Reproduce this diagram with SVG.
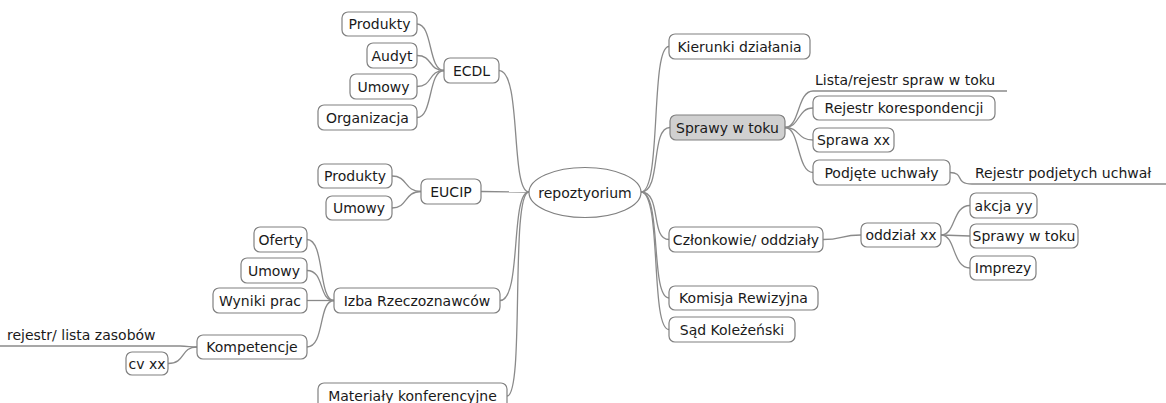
<svg xmlns="http://www.w3.org/2000/svg" width="1166" height="403" viewBox="0 0 1166 403">
<style>
.b{fill:#fff;stroke:#808080;stroke-width:1.2}
.g{fill:#d0d0d0;stroke:#808080;stroke-width:1.2}
.t{font-family:"DejaVu Sans",sans-serif;font-size:14px;fill:#1a1a1a;text-anchor:middle}
.ts{font-family:"DejaVu Sans",sans-serif;font-size:14px;fill:#1a1a1a}
.c{fill:none;stroke:#8a8a8a;stroke-width:1.3}
</style>
<rect width="1166" height="403" fill="#fff"/>
<g id="connectors">
<path class="c" d="M417,24 C433,24 428,70.5 444,70.5"/>
<path class="c" d="M417,55.5 C433,55.5 428,70.5 444,70.5"/>
<path class="c" d="M417,86.5 C433,86.5 428,70.5 444,70.5"/>
<path class="c" d="M417,117.5 C433,117.5 428,70.5 444,70.5"/>
<path class="c" d="M499,70.5 C522,70.5 510,192 529,192"/>
<path class="c" d="M392,176 C408,176 404,191.5 421,191.5"/>
<path class="c" d="M392,208 C408,208 404,191.5 421,191.5"/>
<path class="c" d="M481,191.5 L529,192"/>
<path class="c" d="M307,239.5 C325,239.5 318,300.5 334,300.5"/>
<path class="c" d="M307,270.5 C325,270.5 318,300.5 334,300.5"/>
<path class="c" d="M307,300.5 L334,300.5"/>
<path class="c" d="M307,347 C325,347 318,300.5 334,300.5"/>
<path class="c" d="M500,300.5 C522,300.5 510,192 529,192"/>
<path class="c" d="M507,396 C525,396 510,192 529,192"/>
<path class="c" d="M0,346 L180,346 C188,346 190,347 197,347"/>
<path class="c" d="M168,363.5 C186,363.5 180,347 197,347"/>
<path class="c" d="M641,192 C662,192 650,46.5 669,46.5"/>
<path class="c" d="M641,192 C662,192 650,127.5 670,127.5"/>
<path class="c" d="M641,192 C662,192 650,239.5 669,239.5"/>
<path class="c" d="M641,192 C662,192 650,298 669,298"/>
<path class="c" d="M641,192 C662,192 650,329.5 669,329.5"/>
<path class="c" d="M785,127.5 C800,127.5 797,91 813,91 L1007,91"/>
<path class="c" d="M785,127.5 C800,127.5 797,108 813,108"/>
<path class="c" d="M785,127.5 C800,127.5 797,140 813,140"/>
<path class="c" d="M785,127.5 C800,127.5 797,172.5 813,172.5"/>
<path class="c" d="M950,172.5 C965,172.5 954,184 972,184 L1166,184"/>
<path class="c" d="M823,239.5 C843,239.5 840,235 861,235"/>
<path class="c" d="M941,235 C956,235 952,205.5 970,205.5"/>
<path class="c" d="M941,235 L970,236"/>
<path class="c" d="M941,235 C956,235 952,268 970,268"/>
</g>
<g id="n-root"><ellipse cx="585" cy="192.5" rx="56" ry="25" fill="#fff" stroke="#808080" stroke-width="1.2"/><text class="t" x="585" y="197.5">repoztyorium</text></g>
<g id="n-ecdl"><rect class="b" x="444" y="58" width="55" height="25" rx="6"/><text class="t" x="471.5" y="75.5">ECDL</text></g>
<g id="n-ecdl-produkty"><rect class="b" x="342" y="12" width="75" height="24" rx="6"/><text class="t" x="379.5" y="29">Produkty</text></g>
<g id="n-ecdl-audyt"><rect class="b" x="367" y="43" width="50" height="25" rx="6"/><text class="t" x="392" y="60.5">Audyt</text></g>
<g id="n-ecdl-umowy"><rect class="b" x="350" y="74" width="67" height="25" rx="6"/><text class="t" x="383.5" y="91.5">Umowy</text></g>
<g id="n-ecdl-organizacja"><rect class="b" x="318" y="105" width="99" height="25" rx="6"/><text class="t" x="367.5" y="122.5">Organizacja</text></g>
<g id="n-eucip"><rect class="b" x="421" y="179" width="60" height="25" rx="6"/><text class="t" x="451" y="196.5">EUCIP</text></g>
<g id="n-eucip-produkty"><rect class="b" x="318" y="164" width="74" height="24" rx="6"/><text class="t" x="355" y="181">Produkty</text></g>
<g id="n-eucip-umowy"><rect class="b" x="326" y="196" width="66" height="24" rx="6"/><text class="t" x="359" y="213">Umowy</text></g>
<g id="n-izba"><rect class="b" x="334" y="288" width="166" height="25" rx="6"/><text class="t" x="417" y="305.5">Izba Rzeczoznawców</text></g>
<g id="n-oferty"><rect class="b" x="254" y="227" width="53" height="25" rx="6"/><text class="t" x="280.5" y="244.5">Oferty</text></g>
<g id="n-izba-umowy"><rect class="b" x="241" y="258" width="66" height="25" rx="6"/><text class="t" x="274" y="275.5">Umowy</text></g>
<g id="n-wyniki"><rect class="b" x="213" y="288" width="94" height="25" rx="6"/><text class="t" x="260" y="305.5">Wyniki prac</text></g>
<g id="n-kompetencje"><rect class="b" x="197" y="335" width="110" height="24" rx="6"/><text class="t" x="252" y="352">Kompetencje</text></g>
<g id="n-rejestr-lista"><text class="ts" x="7" y="340">rejestr/ lista zasobów</text></g>
<g id="n-cv"><rect class="b" x="126" y="352" width="42" height="23" rx="6"/><text class="t" x="147" y="368.5">cv xx</text></g>
<g id="n-materialy"><rect class="b" x="318" y="383" width="189" height="26" rx="6"/><text class="t" x="412.5" y="400.5">Materiały konferencyjne</text></g>
<g id="n-kierunki"><rect class="b" x="669" y="34" width="141" height="25" rx="6"/><text class="t" x="739.5" y="51.5">Kierunki działania</text></g>
<g id="n-sprawy"><rect class="g" x="670" y="115" width="115" height="25" rx="6"/><text class="t" x="727.5" y="132.5">Sprawy w toku</text></g>
<g id="n-lista"><text class="ts" x="815" y="85">Lista/rejestr spraw w toku</text></g>
<g id="n-rejestr-kor"><rect class="b" x="813" y="96" width="182" height="24" rx="6"/><text class="t" x="904" y="113">Rejestr korespondencji</text></g>
<g id="n-sprawa-xx"><rect class="b" x="813" y="128" width="81" height="24" rx="6"/><text class="t" x="853.5" y="145">Sprawa xx</text></g>
<g id="n-podjete"><rect class="b" x="813" y="160" width="137" height="25" rx="6"/><text class="t" x="881.5" y="177.5">Podjęte uchwały</text></g>
<g id="n-rejestr-podj"><text class="ts" x="975" y="178">Rejestr podjetych uchwał</text></g>
<g id="n-czlonkowie"><rect class="b" x="669" y="227" width="154" height="25" rx="6"/><text class="t" x="746" y="244.5">Członkowie/ oddziały</text></g>
<g id="n-oddzial"><rect class="b" x="861" y="223" width="80" height="24" rx="6"/><text class="t" x="901" y="240">oddział xx</text></g>
<g id="n-akcja"><rect class="b" x="970" y="193" width="67" height="25" rx="6"/><text class="t" x="1003.5" y="210.5">akcja yy</text></g>
<g id="n-sprawy2"><rect class="b" x="970" y="224" width="108" height="24" rx="6"/><text class="t" x="1024" y="241">Sprawy w toku</text></g>
<g id="n-imprezy"><rect class="b" x="970" y="256" width="66" height="24" rx="6"/><text class="t" x="1003" y="273">Imprezy</text></g>
<g id="n-komisja"><rect class="b" x="669" y="286" width="149" height="24" rx="6"/><text class="t" x="743.5" y="303">Komisja Rewizyjna</text></g>
<g id="n-sad"><rect class="b" x="669" y="317" width="126" height="25" rx="6"/><text class="t" x="732" y="334.5">Sąd Koleżeński</text></g>
</svg>
